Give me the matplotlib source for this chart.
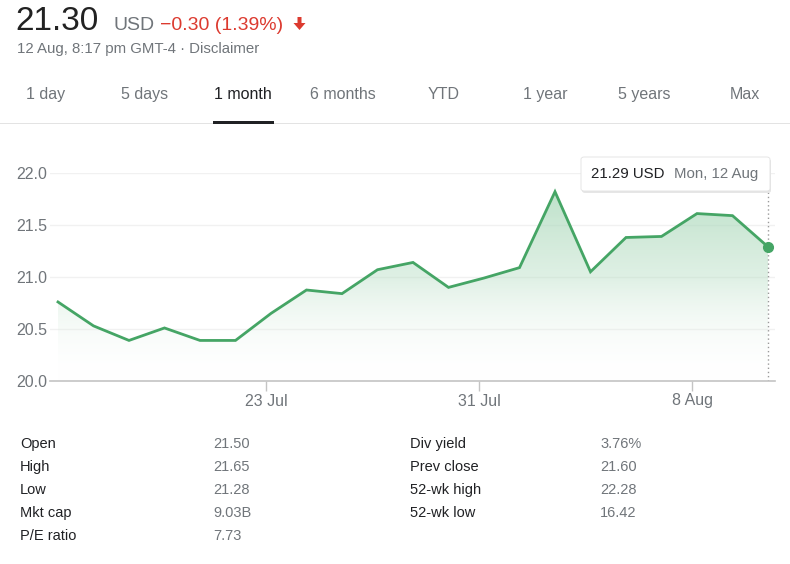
import numpy as np
import matplotlib
matplotlib.use("Agg")
import matplotlib.pyplot as plt
from matplotlib.patches import Polygon, FancyBboxPatch, Rectangle
from matplotlib.colors import LinearSegmentedColormap

plt.rcParams['font.family'] = ['Liberation Sans', 'DejaVu Sans']

# price data, 1 month (trading days)
dates = ["15 Jul", "16 Jul", "17 Jul", "18 Jul", "19 Jul", "22 Jul", "23 Jul", "24 Jul",
         "25 Jul", "26 Jul", "29 Jul", "30 Jul", "31 Jul", "1 Aug", "2 Aug", "5 Aug",
         "6 Aug", "7 Aug", "8 Aug", "9 Aug", "12 Aug"]
prices = [20.76, 20.53, 20.39, 20.51, 20.39, 20.39, 20.65, 20.875, 20.84, 21.07, 21.14,
          20.90, 20.99, 21.09, 21.82, 21.05, 21.38, 21.39, 21.61, 21.59, 21.29]
tick_dates = ["23 Jul", "31 Jul", "8 Aug"]
y_ticks = [20.0, 20.5, 21.0, 21.5, 22.0]

tabs = ["1 day", "5 days", "1 month", "6 months", "YTD", "1 year", "5 years", "Max"]
tab_x = [46, 145, 243, 343, 444, 545, 644, 745]

stats_left = [("Open", "21.50"), ("High", "21.65"), ("Low", "21.28"),
              ("Mkt cap", "9.03B"), ("P/E ratio", "7.73")]
stats_right = [("Div yield", "3.76%"), ("Prev close", "21.60"),
               ("52-wk high", "22.28"), ("52-wk low", "16.42")]

W, H = 790, 564
GREEN = "#45a565"
GREY = "#70757a"
RED = "#dc3a2f"


def fx(x):
    return x / W


def fy(y):
    return 1 - y / H


fig = plt.figure(figsize=(W / 100, H / 100), dpi=100)

# header
fig.text(fx(15), fy(30), "21.30", fontsize=24, color="#222222", va="baseline")
fig.text(fx(113), fy(30), "USD", fontsize=14, color=GREY, va="baseline")
fig.text(fx(160), fy(30), "\u22120.30 (1.39%)", fontsize=14, color=RED, va="baseline")
arrow = Polygon([[fx(297.5), fy(17)], [fx(301.5), fy(17)], [fx(301.5), fy(23)],
                 [fx(305.5), fy(23)], [fx(299.5), fy(30)], [fx(293.5), fy(23)],
                 [fx(297.5), fy(23)]], closed=True, transform=fig.transFigure,
                color=RED, lw=0)
fig.add_artist(arrow)
fig.text(fx(17), fy(53), "12 Aug, 8:17 pm GMT-4 \u00b7 Disclaimer", fontsize=10.8,
         color=GREY, va="baseline")

# tabs
for t, x in zip(tabs, tab_x):
    fig.text(fx(x), fy(99), t, fontsize=11.5, ha="center", va="baseline",
             color="#202124" if t == "1 month" else GREY)
fig.add_artist(Rectangle((0, fy(123.5)), 1, 1 / H, transform=fig.transFigure,
                         color="#e3e3e3", lw=0))
fig.add_artist(Rectangle((fx(213), fy(124)), fx(61), 3 / H, transform=fig.transFigure,
                         color="#202124", lw=0))

# chart
ax = fig.add_axes([fx(50), fy(381), fx(725), (381 - 173) / H])
x = np.arange(len(prices))
step = (768 - 58) / 20
ax.set_xlim(-(58 - 50) / step, (775 - 58) / step)
ax.set_ylim(20.0, 22.0)

# gradient fill under the line
cmap = LinearSegmentedColormap.from_list("g", [(1, 1, 1, 0), (0.72, 0.87, 0.77, 0.45),
                                               (0.62, 0.83, 0.69, 0.75)])
grad = np.linspace(0, 1, 256).reshape(-1, 1)
im = ax.imshow(grad, extent=[x[0], x[-1], 20.0, 22.0], origin="lower", aspect="auto",
               cmap=cmap, zorder=1)
clip = Polygon(np.vstack([[x[0], 20.0], np.column_stack([x, prices]), [x[-1], 20.0]]),
               closed=True, transform=ax.transData)
im.set_clip_path(clip)

ax.plot(x, prices, color=GREEN, lw=2, zorder=3, solid_joinstyle="miter")
ax.plot(x[-1], prices[-1], "o", color=GREEN, ms=7, zorder=4)
ax.plot([x[-1], x[-1]], [20.0, 22.0 - (192 - 173) / 104], color="#9a9a9a", lw=1,
        ls=(0, (1, 2)), zorder=2)

for yv in y_ticks[1:]:
    ax.axhline(yv, color="#f1f1f1", lw=1, zorder=0)

for s in ["top", "right", "left"]:
    ax.spines[s].set_visible(False)
ax.spines["bottom"].set_color("#c4c4c4")
ax.spines["bottom"].set_linewidth(1.2)

ax.set_yticks(y_ticks)
ax.set_yticklabels([f"{v:.1f}" for v in y_ticks])
ax.tick_params(axis="y", length=0, pad=2, labelsize=11.5, labelcolor=GREY)
tick_pos = [dates.index(d) - 0.14 for d in tick_dates]
ax.set_xticks(tick_pos)
ax.set_xticklabels(tick_dates)
ax.tick_params(axis="x", length=7, width=1, color="#c4c4c4", pad=2, labelsize=11.5,
               labelcolor=GREY)

# tooltip
shadow = FancyBboxPatch((fx(582), fy(193)), fx(189), 34 / H,
                        boxstyle="round,pad=0,rounding_size=0.004",
                        transform=fig.transFigure, facecolor="#e6e6e6", edgecolor="none",
                        zorder=4)
fig.add_artist(shadow)
tip = FancyBboxPatch((fx(581), fy(191)), fx(189), 34 / H,
                     boxstyle="round,pad=0,rounding_size=0.004",
                     transform=fig.transFigure, facecolor="white", edgecolor="#e2e2e2",
                     lw=0.6, zorder=5)
fig.add_artist(tip)
fig.text(fx(591), fy(174), f"{prices[-1]:.2f} USD", fontsize=10.8, color="#202124",
         va="center", zorder=6)
fig.text(fx(674), fy(174), "Mon, " + dates[-1], fontsize=10.8, color=GREY, va="center",
         zorder=6)

# stats table
row_y = [444, 467, 490, 513, 536]
for (k, v), yy in zip(stats_left, row_y):
    fig.text(fx(20), fy(yy), k, fontsize=10.5, color="#202124", va="center")
    fig.text(fx(213), fy(yy), v, fontsize=10.5, color=GREY, va="center")
for (k, v), yy in zip(stats_right, row_y):
    fig.text(fx(410), fy(yy), k, fontsize=10.5, color="#202124", va="center")
    fig.text(fx(600), fy(yy), v, fontsize=10.5, color=GREY, va="center")

fig.savefig("out.png", dpi=100)
